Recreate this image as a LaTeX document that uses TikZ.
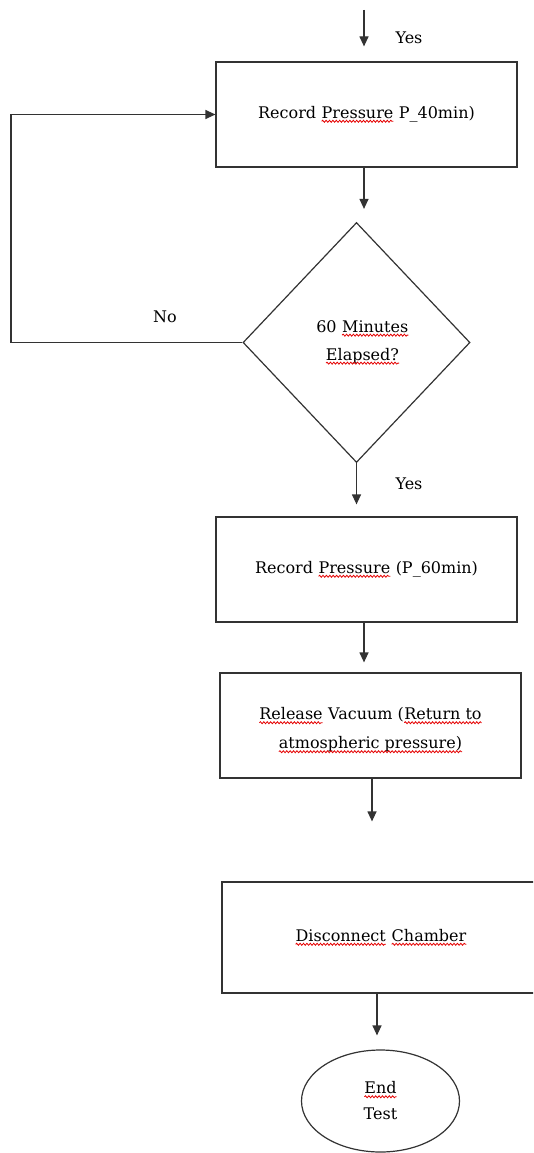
\documentclass[tikz,border=0pt]{standalone}
\usepackage{fontspec}
\setmainfont{DejaVu Serif}
\usetikzlibrary{shapes.geometric,arrows.meta,decorations.pathmorphing}
\newcommand\sq[1]{\tikz[baseline=(w.base)]{\node[rectangle,inner sep=0pt,outer sep=0pt,draw=none,minimum width=0pt,minimum height=0pt](w){#1};\draw[red!90!black,line width=0.8pt,decorate,decoration={snake,amplitude=1pt,segment length=3.4pt}] ([yshift=-2.8pt]w.base west)--([yshift=-2.8pt]w.base east);}}
\tikzset{
  line/.style={draw=black!80,line width=1.2pt},
  box/.style={line,rectangle,minimum width=301pt,minimum height=105pt,align=center,font=\fontsize{16}{29}\selectfont},
  arr/.style={line,-{Triangle[length=10pt,width=9pt]}},
  lbl/.style={font=\fontsize{16}{18}\selectfont,inner sep=0pt}
}
\begin{document}
\begin{tikzpicture}[x=1pt,y=-1pt]
\useasboundingbox (0,0) rectangle (533,1153);
\clip (0,0) rectangle (533,1153);
\fill[white] (0,0) rectangle (533,1153);
% nodes
\node[box] (b1) at (366.5,114.5) {Record \sq{Pressure} P\_40min)};
\node[line,diamond,aspect=0.946,minimum width=227pt,minimum height=240pt,inner sep=0pt,align=center,font=\fontsize{16}{28}\selectfont] (d) at (356.5,342.5) {\hspace*{12pt}60 \sq{Minutes}\\\hspace*{12pt}\sq{Elapsed?}};
\node[box] (b2) at (366.5,569.5) {Record \sq{Pressure} (P\_60min)};
\node[box] (b3) at (370.5,725.5) {\rule{0pt}{22pt}\sq{Release} Vacuum (\sq{Return to}\\\sq{atmospheric pressure)}};
\node[box,minimum width=318pt,minimum height=111pt] (b4) at (381,937.5) {\sq{Disconnect} \sq{Chamber}};
\node[line,ellipse,minimum width=158pt,minimum height=102pt,inner sep=0pt,align=center,font=\fontsize{16}{26}\selectfont] (e) at (380.5,1101) {\sq{End}\\Test};
% labels
\node[lbl] (y1) at (409,38) {Yes};
\node[lbl] (y2) at (409,484) {Yes};
\node[lbl] (no) at (165,317) {No};
% connectors
\coordinate (s) at (364,10);
\coordinate (lp) at (11,0);
\draw[arr,shorten >=15pt] (s) -- (s |- b1.north);
\draw[arr,shorten >=13pt] ([xshift=-2.5pt]b1.south) -- ([xshift=-2.5pt]b1.south |- d.north);
\draw[arr,shorten >=12pt] (d.south) -- (d.south |- b2.north);
\draw[arr,shorten >=10pt] ([xshift=-2.5pt]b2.south) -- ([xshift=-2.5pt]b2.south |- b3.north);
\draw[arr,shorten >=60pt] ([xshift=1.5pt]b3.south) -- ([xshift=1.5pt]b3.south |- b4.north);
\draw[arr,shorten >=14pt] ([xshift=-4pt]b4.south) -- ([xshift=-4pt]b4.south |- e.north);
\draw[arr] (d.west) -- (d.west -| lp) |- (b1.west);
\end{tikzpicture}
\end{document}
